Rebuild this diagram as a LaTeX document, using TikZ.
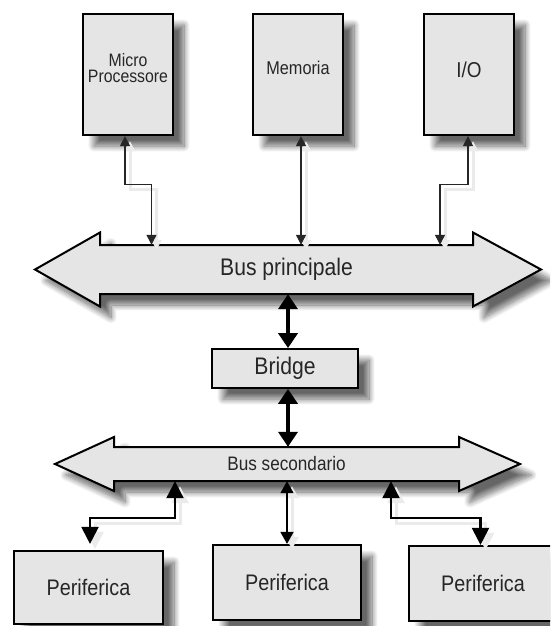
\documentclass[tikz,border=0pt]{standalone}
\usepackage{fontspec}
\setmainfont{Liberation Sans}[FakeStretch=0.88]
\usetikzlibrary{arrows.meta,shadows.blur}

\newcommand{\fsz}[1]{\fontsize{#1}{1.1\dimexpr#1pt\relax}\selectfont}

\tikzset{
  txt/.style={text=black!85, inner sep=0pt, align=center},
  boxshadow/.style={blur shadow={shadow xshift=11pt, shadow yshift=-11pt,
      shadow blur radius=6pt, shadow blur steps=12, shadow opacity=60}},
  unit/.style={draw=black, line width=2.2pt, fill=black!10, inner sep=0pt,
      boxshadow, text=black!85},
  busbody/.style={inner sep=0pt, text=black!85},
  busoutline/.style={draw=black, line width=2pt, fill=black!10,
      line join=miter, boxshadow},
  lineshadow/.style={preaction={draw=black!8, line width=3pt,
      transform canvas={shift={(5pt,-5pt)}}}},
  thinlink/.style={line width=1.2pt, draw=black!85,
      >={Triangle[width=10pt,length=10pt]}, <->, lineshadow},
  smalllink/.style={line width=1.6pt, draw=black,
      >={Triangle[width=13pt,length=12pt]}, <->, lineshadow},
  medlink/.style={line width=2.2pt, draw=black,
      >={Triangle[width=17pt,length=17pt]}, <->, lineshadow},
  thicklink/.style={line width=4pt, draw=black,
      >={Triangle[width=19pt,length=15pt]}, <->},
}

\begin{document}
\begin{tikzpicture}[x=1pt, y=-1pt]
\useasboundingbox (0,0) rectangle (550,626);
\clip (0,0) rectangle (550,626);

% processor, memory and I/O units
\node[unit, minimum width=90pt, minimum height=121pt] (micro) at (128,74.5) {};
\node[unit, minimum width=90pt, minimum height=121pt] (mem) at (298,74.5) {};
\node[unit, minimum width=90pt, minimum height=121pt] (io) at (469,74.5) {};
\node[txt, font=\fsz{18}] (microT) at (128,68) {Micro\\[-3pt]Processore};
\node[txt, font=\fsz{18.5}] (memT) at (298,68) {Memoria};
\node[txt, font=\fsz{21.5}] (ioT) at (469,70) {I/O};

% main bus
\path[busoutline] (100,245) -- (100,232.5) -- (35,269.5) -- (100,306.5)
  -- (100,294) -- (473,294) -- (473,306.5) -- (541,269.5) -- (473,232.5)
  -- (473,245) -- cycle;
\node[busbody, minimum width=373pt, minimum height=49pt, font=\fsz{24}]
  (busP) at (286.5,269.5) {Bus principale};

% bridge
\node[unit, line width=1.8pt, minimum width=146pt, minimum height=39pt,
  font=\fsz{24}] (bridge) at (285,368.5) {Bridge};

% secondary bus
\path[busoutline] (114,447) -- (114,437) -- (55,464) -- (114,491)
  -- (114,481) -- (459,481) -- (459,491) -- (520,464) -- (459,437)
  -- (459,447) -- cycle;
\node[busbody, minimum width=345pt, minimum height=34pt, font=\fsz{19.5}]
  (busS) at (286.5,464) {Bus secondario};

% peripherals
\node[unit, minimum width=149pt, minimum height=73pt, font=\fsz{22.5}]
  (perA) at (88.5,587.5) {Periferica};
\node[unit, minimum width=148pt, minimum height=75pt, font=\fsz{22.5}]
  (perB) at (287,582.5) {Periferica};
\node[unit, minimum width=148pt, minimum height=75pt, font=\fsz{22.5}]
  (perC) at (483,583.5) {Periferica};

% links to the main bus
\draw[thinlink] ([xshift=-3pt]micro.south) -- ++(0,48) -| ([xshift=-135pt]busP.north);
\draw[thinlink] ([xshift=3pt]mem.south) -- ([xshift=3pt]mem.south |- busP.north);
\draw[thinlink] ([xshift=-1pt]io.south) -- ++(0,48) -| ([xshift=153.5pt]busP.north);

% bridge links
\draw[thicklink] ([xshift=1.5pt]busP.south) -- ([xshift=1.5pt]busP.south |- bridge.north);
\draw[thicklink] ([xshift=3pt]bridge.south) -- ([xshift=3pt]bridge.south |- busS.north);

% links to the peripherals
\draw[medlink] ([xshift=-111.5pt]busS.south) -- ++(0,37) -| ([xshift=1.5pt,yshift=6pt]perA.north);
\draw[smalllink] (busS.south -| perB.north) -- (perB.north);
\draw[medlink] ([xshift=104.5pt]busS.south) -- ++(0,37) -| ([xshift=-2.5pt]perC.north);
\end{tikzpicture}
\end{document}
